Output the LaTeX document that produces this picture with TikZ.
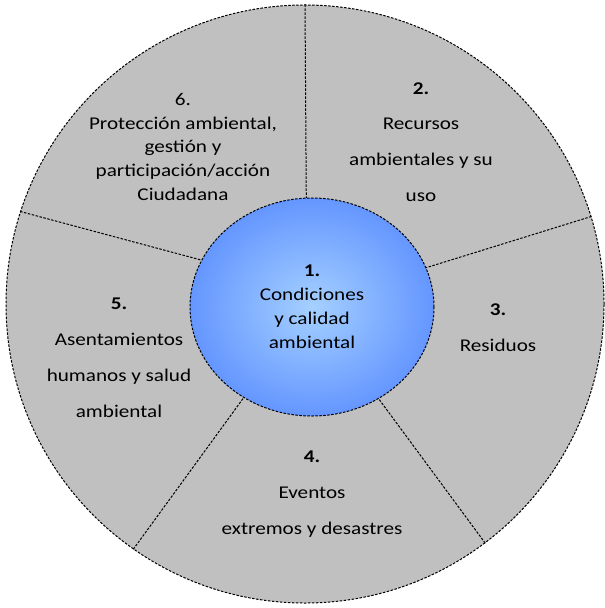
\documentclass[tikz,border=0pt]{standalone}
\usepackage{fontspec}
\setmainfont{Carlito}[FakeStretch=1.18]
\usetikzlibrary{shapes.geometric}
\definecolor{ringgray}{RGB}{192,192,192}
\definecolor{blueIn}{RGB}{165,208,255}
\definecolor{blueOut}{RGB}{100,150,255}
\tikzset{
  divider/.style={draw=black, line width=1bp, dash pattern=on 2.5bp off 1.5bp},
  lbl/.style={align=center, inner sep=0pt, text=black},
  tight/.style={font=\fontsize{18}{24}\selectfont},
  loose/.style={font=\fontsize{18}{36}\selectfont}
}
\begin{document}
\begin{tikzpicture}[x=1bp,y=-1bp]
\useasboundingbox (0,0) rectangle (605,608);
\node[circle, minimum size=598bp, inner sep=0pt, fill=ringgray, divider] (outer) at (305,304) {};
\node[ellipse, minimum width=244bp, minimum height=218bp, inner sep=0pt] (c1sh) at (312,307) {};
\draw[divider] (outer.90) -- (c1sh.93);
\draw[divider] (outer.17.5) -- (c1sh.19.6);
\draw[divider] (outer.-53.4) -- (c1sh.-54.7);
\draw[divider] (outer.-125.4) -- (c1sh.-127.5);
\draw[divider] (outer.162.8) -- (c1sh.157.2);
\node[ellipse, minimum width=244bp, minimum height=218bp, inner sep=0pt, divider, inner color=blueIn, outer color=blueOut, lbl, tight] (c1) at (312,307) {\textbf{1.}\\Condiciones\\y calidad\\ambiental};
\node[lbl, tight] (s6) at (183,147) {6.\\Protección ambiental,\\gestión y\\participación/acción\\Ciudadana};
\node[lbl, loose] (s2) at (421,142) {\textbf{2.}\\Recursos\\ambientales y su\\uso};
\node[lbl, loose] (s3) at (498,328) {\textbf{3.}\\Residuos};
\node[lbl, loose] (s4) at (312,494) {\textbf{4.}\\Eventos\\extremos y desastres};
\node[lbl, loose] (s5) at (119,358) {\textbf{5.}\\Asentamientos\\humanos y salud\\ambiental};
\end{tikzpicture}
\end{document}
